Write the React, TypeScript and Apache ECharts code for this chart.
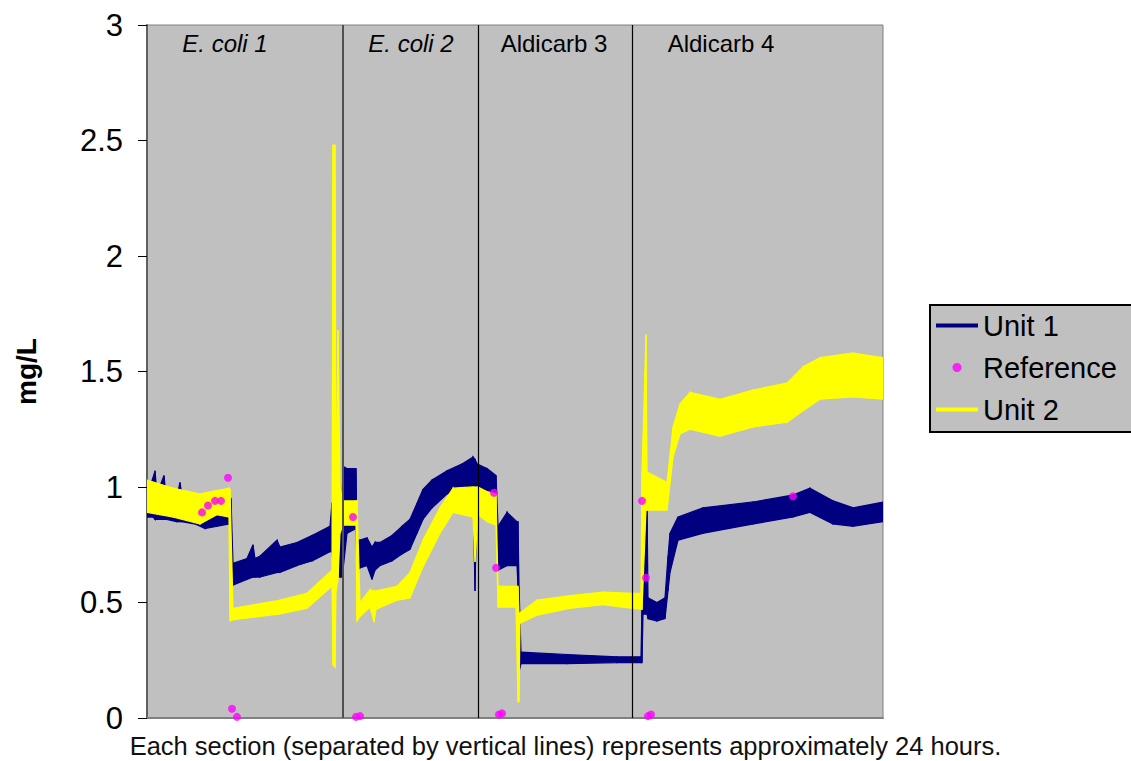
import React, { useEffect, useRef } from "react";
import * as echarts from "echarts";

// Section names and the sample positions of the separators between them
const sectionNames = ["E. coli 1", "E. coli 2", "Aldicarb 3", "Aldicarb 4"];
const sectionItalic = [true, true, false, false];
const sectionLabelX = [78, 264, 407, 574];
const sectionBounds = [196, 331, 485];

const caption = "Each section (separated by vertical lines) represents approximately 24 hours.";

// Unit 1 (noise band: lower and upper envelope), x = sample position
const unit1X = [0, 6, 8, 10, 17, 19, 30, 33, 35, 48, 58, 70, 82, 84, 86, 100, 106, 108, 113, 130, 133, 150, 165, 183, 185, 188, 195, 196, 200, 209, 210, 213, 220, 225, 228, 233, 245, 255, 263, 270, 276, 285, 300, 315, 326, 328, 330, 340, 349, 351, 360, 370, 371, 372, 374, 420, 470, 494, 495, 496, 500, 501, 510, 518, 521, 523, 531, 556, 606, 646, 663, 686, 706, 736];
const unit1Low = [0.87, 0.87, 0.86, 0.86, 0.86, 0.86, 0.85, 0.85, 0.85, 0.84, 0.82, 0.83, 0.84, 0.84, 0.575, 0.6, 0.61, 0.61, 0.61, 0.63, 0.63, 0.66, 0.68, 0.72, 0.72, 0.61, 0.61, 0.64, 0.8, 0.82, 0.64, 0.65, 0.66, 0.6, 0.64, 0.66, 0.68, 0.71, 0.73, 0.8, 0.86, 0.91, 0.97, 0.99, 1.0, 0.55, 0.99, 0.98, 0.94, 0.64, 0.66, 0.66, 0.57, 0.2, 0.235, 0.235, 0.24, 0.24, 0.24, 0.45, 0.45, 0.43, 0.42, 0.43, 0.55, 0.63, 0.77, 0.8, 0.84, 0.87, 0.89, 0.84, 0.83, 0.85];
const unit1High = [0.97, 1.04, 1.07, 0.97, 1.05, 0.96, 0.96, 1.02, 0.96, 0.95, 0.93, 0.95, 0.96, 0.95, 0.67, 0.69, 0.75, 0.69, 0.7, 0.77, 0.74, 0.76, 0.79, 0.83, 0.93, 0.93, 0.9, 1.09, 1.08, 1.08, 0.77, 0.77, 0.78, 0.74, 0.76, 0.76, 0.79, 0.83, 0.86, 0.93, 0.99, 1.03, 1.07, 1.1, 1.13, 1.12, 1.1, 1.08, 1.05, 0.83, 0.89, 0.85, 0.85, 0.57, 0.285, 0.275, 0.265, 0.265, 0.48, 0.94, 0.94, 0.52, 0.5, 0.52, 0.7, 0.8, 0.87, 0.91, 0.935, 0.965, 0.995, 0.94, 0.91, 0.935];

// Unit 2 (noise band: lower and upper envelope)
const unit2X = [0, 26, 53, 70, 82, 83, 86, 133, 160, 185, 186, 188, 189, 191, 193, 196, 209, 210, 213, 223, 227, 229, 250, 263, 276, 293, 306, 326, 328, 331, 340, 349, 351, 369, 371, 372, 373, 390, 423, 456, 485, 494, 495, 499, 500, 520, 526, 533, 543, 573, 606, 640, 656, 673, 706, 736];
const unit2Low = [0.89, 0.87, 0.84, 0.88, 0.87, 0.42, 0.425, 0.45, 0.475, 0.57, 0.23, 0.22, 0.55, 0.6, 0.8, 0.835, 0.835, 0.42, 0.44, 0.48, 0.415, 0.47, 0.51, 0.52, 0.655, 0.8, 0.89, 0.87, 0.675, 0.88, 0.85, 0.835, 0.48, 0.48, 0.07, 0.07, 0.41, 0.445, 0.475, 0.49, 0.475, 0.47, 0.47, 0.9, 0.9, 0.9, 1.13, 1.23, 1.25, 1.22, 1.26, 1.28, 1.33, 1.38, 1.39, 1.38];
const unit2High = [1.03, 0.995, 0.97, 0.985, 0.995, 0.99, 0.475, 0.51, 0.54, 0.64, 2.48, 2.48, 1.0, 1.68, 1.0, 0.94, 0.94, 0.94, 0.5, 0.555, 0.55, 0.55, 0.57, 0.63, 0.77, 0.91, 0.995, 1.0, 1.0, 1.0, 0.98, 0.97, 0.57, 0.57, 0.57, 0.45, 0.455, 0.51, 0.53, 0.545, 0.54, 0.54, 1.065, 1.66, 1.065, 1.02, 1.26, 1.36, 1.41, 1.38, 1.42, 1.45, 1.52, 1.56, 1.58, 1.56];

// Reference measurements
const refX = [55, 61, 68, 74, 81, 85, 90, 206, 209, 213, 347, 349, 352, 355, 495, 499, 501, 504, 646];
const refY = [0.89, 0.92, 0.94, 0.94, 1.04, 0.04, 0.005, 0.87, 0.005, 0.008, 0.975, 0.65, 0.015, 0.02, 0.94, 0.607, 0.008, 0.015, 0.96];

const NAVY = "#000080";
const YELLOW = "#FFFF00";
const MAGENTA = "#FF00FF";

// legend icon: a 4px bar inside a 42x9 box
const LINE_ICON = "path://M0,0L0,0M0,2.5L42,2.5L42,6.5L0,6.5ZM42,9L42,9";

function bandSeries(name: string, xs: number[], lows: number[], highs: number[], color: string) {
  // each item is one segment of the band: [x0, low0, high0, x1, low1, high1]
  const data: number[][] = [];
  for (let i = 1; i < xs.length; i++) {
    data.push([xs[i - 1], lows[i - 1], highs[i - 1], xs[i], lows[i], highs[i]]);
  }
  return {
    name,
    type: "custom",
    data,
    encode: { x: [0, 3], y: [1, 2, 4, 5] },
    itemStyle: { color },
    silent: true,
    clip: true,
    renderItem: (params: any, api: any) => {
      const a = api.coord([api.value(0), api.value(2)]);
      const b = api.coord([api.value(3), api.value(5)]);
      const c = api.coord([api.value(3), api.value(4)]);
      const d = api.coord([api.value(0), api.value(1)]);
      return {
        type: "polygon",
        shape: { points: [a, b, c, d] },
        style: { fill: color, stroke: color, lineWidth: 1.2 },
      };
    },
  };
}

export default function App() {
  const ref = useRef<HTMLDivElement>(null);
  useEffect(() => {
    if (!ref.current) return;
    const chart = echarts.init(ref.current, undefined, { renderer: "svg" });
    const font = "Liberation Sans, Arial, sans-serif";
    const option: any = {
      animation: false,
      backgroundColor: "#ffffff",
      title: {
        text: caption,
        left: "center",
        top: 733,
        padding: 0,
        textStyle: { fontFamily: font, fontSize: 25.5, fontWeight: "normal", color: "#111" },
      },
      grid: {
        left: 147,
        right: 248,
        top: 25,
        bottom: 43,
        show: true,
        backgroundColor: "#C0C0C0",
        borderColor: "#808080",
        borderWidth: 1,
      },
      xAxis: {
        type: "value",
        min: 0,
        max: 736,
        axisLine: { show: true, lineStyle: { color: "#808080", width: 2 } },
        axisTick: { show: false },
        axisLabel: { show: false },
        splitLine: { show: false },
      },
      yAxis: {
        type: "value",
        min: 0,
        max: 3,
        interval: 0.5,
        name: "mg/L",
        nameLocation: "middle",
        nameRotate: 90,
        nameGap: 107,
        nameTextStyle: { fontFamily: font, fontSize: 28, fontWeight: "bold", color: "#000" },
        axisLine: { show: true, lineStyle: { color: "#606060", width: 2 } },
        axisTick: { show: true, inside: false, length: 9, lineStyle: { color: "#000", width: 1 } },
        axisLabel: { fontFamily: font, fontSize: 31, color: "#000", margin: 24 },
        splitLine: { show: false },
      },
      legend: {
        orient: "vertical",
        left: 930,
        top: 305,
        data: [
          { name: "Unit 1", icon: LINE_ICON },
          { name: "Reference", icon: "circle" },
          { name: "Unit 2", icon: LINE_ICON },
        ],
        itemWidth: 42,
        itemHeight: 9,
        itemGap: 13,
        padding: [6, 20, 8, 6],
        backgroundColor: "#C0C0C0",
        borderColor: "#000",
        borderWidth: 2,
        borderRadius: 0,
        selectedMode: false,
        textStyle: { fontFamily: font, fontSize: 29, color: "#000" },
      },
      graphic: sectionNames.map((n, i) => ({
        type: "text",
        x: 147 + sectionLabelX[i],
        y: 43,
        z: 100,
        silent: true,
        style: {
          text: n,
          fontFamily: font,
          fontSize: 24,
          fontStyle: sectionItalic[i] ? "italic" : "normal",
          fill: "#000",
          textAlign: "center",
          textVerticalAlign: "middle",
        },
      })),
      series: [
        bandSeries("Unit 1", unit1X, unit1Low, unit1High, NAVY),
        bandSeries("Unit 2", unit2X, unit2Low, unit2High, YELLOW),
        {
          name: "Reference",
          type: "scatter",
          data: refX.map((x, i) => [x, refY[i]]),
          symbol: "circle",
          symbolSize: 8,
          itemStyle: { color: MAGENTA },
          silent: true,
          markLine: {
            silent: true,
            symbol: ["none", "none"],
            label: { show: false },
            data: sectionBounds.map((b, i) => ({
              xAxis: b,
              lineStyle: { color: i === 0 ? "#505050" : "#000", width: i === 0 ? 2 : 1.2, type: "solid" },
            })),
          },
        },
      ],
    };
    chart.setOption(option);
    return () => chart.dispose();
  }, []);
  return (
    <div
      ref={ref}
      style={{ position: "absolute", left: 0, top: 0, width: 1131, height: 761, background: "#fff" }}
    />
  );
}
